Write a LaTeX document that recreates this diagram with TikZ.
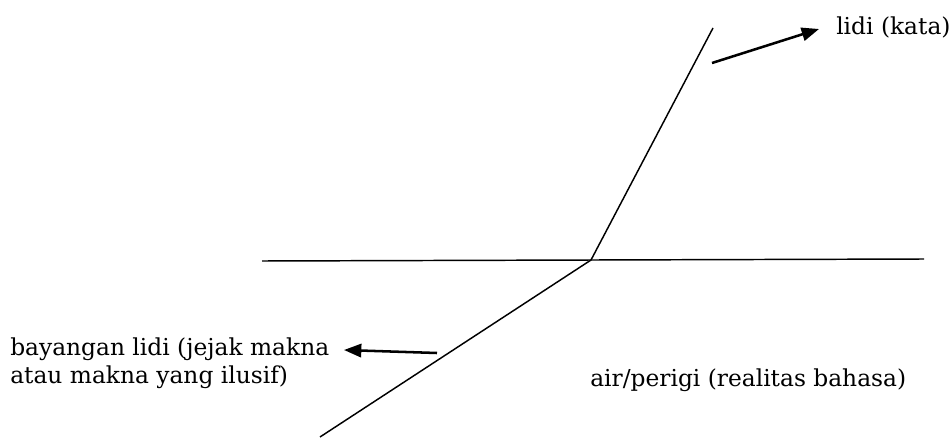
\documentclass[tikz,border=0pt]{standalone}
\usepackage{fontspec}
\setmainfont{DejaVu Serif}
\usetikzlibrary{arrows.meta}
\tikzset{
  stick/.style={line width=1.1pt},
  pointer/.style={-{Triangle[length=13pt,width=10pt]}, line width=1.9pt},
  caption/.style={anchor=base west, inner sep=0pt, align=left,
    font=\fontsize{17.5}{20.5}\selectfont}
}
\begin{document}
\begin{tikzpicture}[x=0.75pt, y=-0.75pt]
\useasboundingbox (0,0) rectangle (951,439);
% water surface and the stick
\coordinate (left) at (262,261);
\coordinate (right) at (924,259);
\coordinate (bend) at (591,260);
\coordinate (tip) at (713,28);
\coordinate (foot) at (320,437);
\draw[stick] (left) -- (right);
\draw[stick] (foot) -- (bend) -- (tip);
% labels
\node[caption] (kata) at (836,35) {lidi (kata)};
\node[caption] (bayangan) at (10,383) {bayangan lidi (jejak makna\\atau makna yang ilusif)};
\node[caption] (air) at (590,386) {air/perigi (realitas bahasa)};
% arrows
\coordinate (a1) at (712,63);
\coordinate (b1) at (819,29);
\coordinate (a2) at (437,353);
\coordinate (b2) at (344,350);
\draw[pointer] (a1) -- (b1);
\draw[pointer] (a2) -- (b2);
\end{tikzpicture}
\end{document}
